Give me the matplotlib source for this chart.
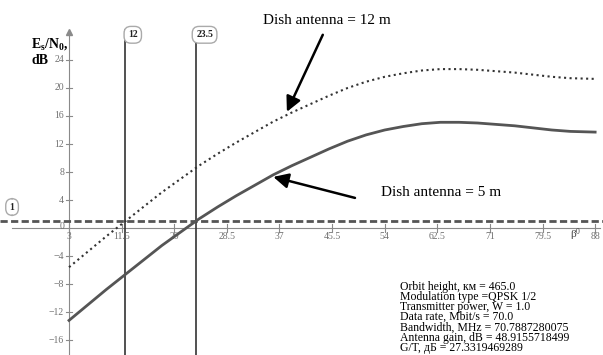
import matplotlib
matplotlib.use("Agg")
import matplotlib.pyplot as plt

# Elevation angle, degrees
beta = [3, 6, 9, 12, 15, 18, 21, 24, 27, 30, 33, 36, 39, 42, 45, 48, 51, 54,
        57, 60, 63, 66, 69, 72, 75, 78, 81, 84, 88]
# Es/N0 for a 5 m dish, dB
esn0_5m = [-13.2, -11.0, -8.8, -6.7, -4.6, -2.5, -0.6, 1.3, 3.0, 4.6, 6.1, 7.6,
           8.9, 10.1, 11.3, 12.4, 13.3, 14.0, 14.5, 14.9, 15.1, 15.1, 15.0,
           14.8, 14.6, 14.3, 14.0, 13.8, 13.7]
# Es/N0 for a 12 m dish, dB
esn0_12m = [-5.6, -3.4, -1.2, 0.9, 3.0, 5.1, 7.0, 8.9, 10.6, 12.2, 13.7, 15.2,
            16.5, 17.7, 18.9, 20.0, 20.9, 21.6, 22.1, 22.5, 22.7, 22.7, 22.6,
            22.4, 22.2, 21.9, 21.6, 21.4, 21.3]

threshold = 1.0
marker_angles = [12, 23.5]
x_ticks = [3, 11.5, 20, 28.5, 37, 45.5, 54, 62.5, 71, 79.5, 88]
x_tick_labels = ["3", "11.5", "20", "28.5", "37", "45.5", "54", "62.5", "71", "79.5", "88"]
y_ticks = [-16, -12, -8, -4, 0, 4, 8, 12, 16, 20, 24]

info_lines = [
    "Orbit height, км = 465.0",
    "Modulation type =QPSK 1/2",
    "Transmitter power, W = 1.0",
    "Data rate, Mbit/s = 70.0",
    "Bandwidth, MHz = 70.7887280075",
    "Antenna gain, dB = 48.9155718499",
    "G/T, дБ = 27.3319469289",
]

SERIF = ["Liberation Serif", "DejaVu Serif"]
AXIS_GREY = "#8a8a8a"
TICK_GREY = "#707070"

fig = plt.figure(figsize=(6.03, 3.55), dpi=100)
ax = fig.add_axes([0, 0, 1, 1])
ax.set_xlim(-8.15, 89.27)
ax.set_ylim(-18.14, 32.57)
ax.axis("off")

# axes drawn through the origin of the plotted region
ax.plot([-6.2, 88.8], [0, 0], color=AXIS_GREY, lw=0.8, zorder=1)
ax.plot([3, 3], [-18.14, 27.6], color=AXIS_GREY, lw=0.8, zorder=1)
ax.plot([3], [28.0], marker="^", color=AXIS_GREY, markersize=5, zorder=1)

for xt, lab in zip(x_ticks, x_tick_labels):
    ax.plot([xt, xt], [-0.55, 0.55], color=AXIS_GREY, lw=0.8, zorder=1)
    ax.text(xt, -1.25, lab, ha="center", va="center", fontsize=7,
            color=TICK_GREY, family=SERIF)
for yt in y_ticks:
    if yt == 0:
        ax.text(2.2, 0.2, "0", ha="right", va="center", fontsize=7,
                color=TICK_GREY, family=SERIF)
        continue
    ax.plot([2.5, 3.5], [yt, yt], color=AXIS_GREY, lw=0.8, zorder=1)
    ax.text(2.2, yt, "\u2212%d" % -yt if yt < 0 else str(yt), ha="right",
            va="center", fontsize=7, color=TICK_GREY, family=SERIF)

# threshold line
ax.axhline(threshold, color="#555555", lw=2.0, dashes=(2.6, 1.2), zorder=2)

# vertical marker lines
for xa in marker_angles:
    ax.plot([xa, xa], [-18.14, 28.3], color="#333333", lw=1.2, zorder=2)

# curves
ax.plot(beta, esn0_5m, color="#555555", lw=2.0, zorder=3)
ax.plot(beta, esn0_12m, color="#333333", lw=1.5, linestyle=":", zorder=3)


def boxed(x, y, s):
    ax.text(x, y, s, ha="center", va="center", fontsize=7, fontweight="bold",
            family=SERIF, color="#222222",
            bbox=dict(boxstyle="round,pad=0.4,rounding_size=0.7",
                      fc="white", ec="#aaaaaa", lw=1.0), zorder=5)


boxed(13.3, 27.6, "12")
boxed(24.9, 27.6, "23.5")
boxed(-6.2, 3.0, "1")

# axis names
ax.text(-3.1, 26.3, r"E$_\mathregular{s}$/N$_\mathregular{0}$,", ha="left", va="center",
        fontsize=10, fontweight="bold", family=SERIF)
ax.text(-3.1, 23.9, "dB", ha="left", va="center", fontsize=10,
        fontweight="bold", family=SERIF)
ax.text(84.8, -0.9, r"$\mathregular{\beta^0}$", ha="center", va="center",
        fontsize=8, color="#444444", family=SERIF)

# callouts
ax.text(44.7, 29.7, "Dish antenna = 12 m", ha="center", va="center",
        fontsize=11, family=SERIF)
ax.annotate("", xy=(38.2, 16.6), xytext=(44.0, 27.6),
            arrowprops=dict(arrowstyle="-|>,head_length=0.9,head_width=0.45",
                            color="black", lw=1.8, shrinkA=0, shrinkB=0))
ax.text(63.1, 5.1, "Dish antenna = 5 m", ha="center", va="center",
        fontsize=11, family=SERIF)
ax.annotate("", xy=(36.0, 7.3), xytext=(49.2, 4.3),
            arrowprops=dict(arrowstyle="-|>,head_length=0.9,head_width=0.45",
                            color="black", lw=1.8, shrinkA=0, shrinkB=0))

# link parameters
ax.text(56.5, -7.5, "\n".join(info_lines), ha="left", va="top", fontsize=8.5,
        family=SERIF, linespacing=0.8)

fig.savefig("out.png", dpi=100)
